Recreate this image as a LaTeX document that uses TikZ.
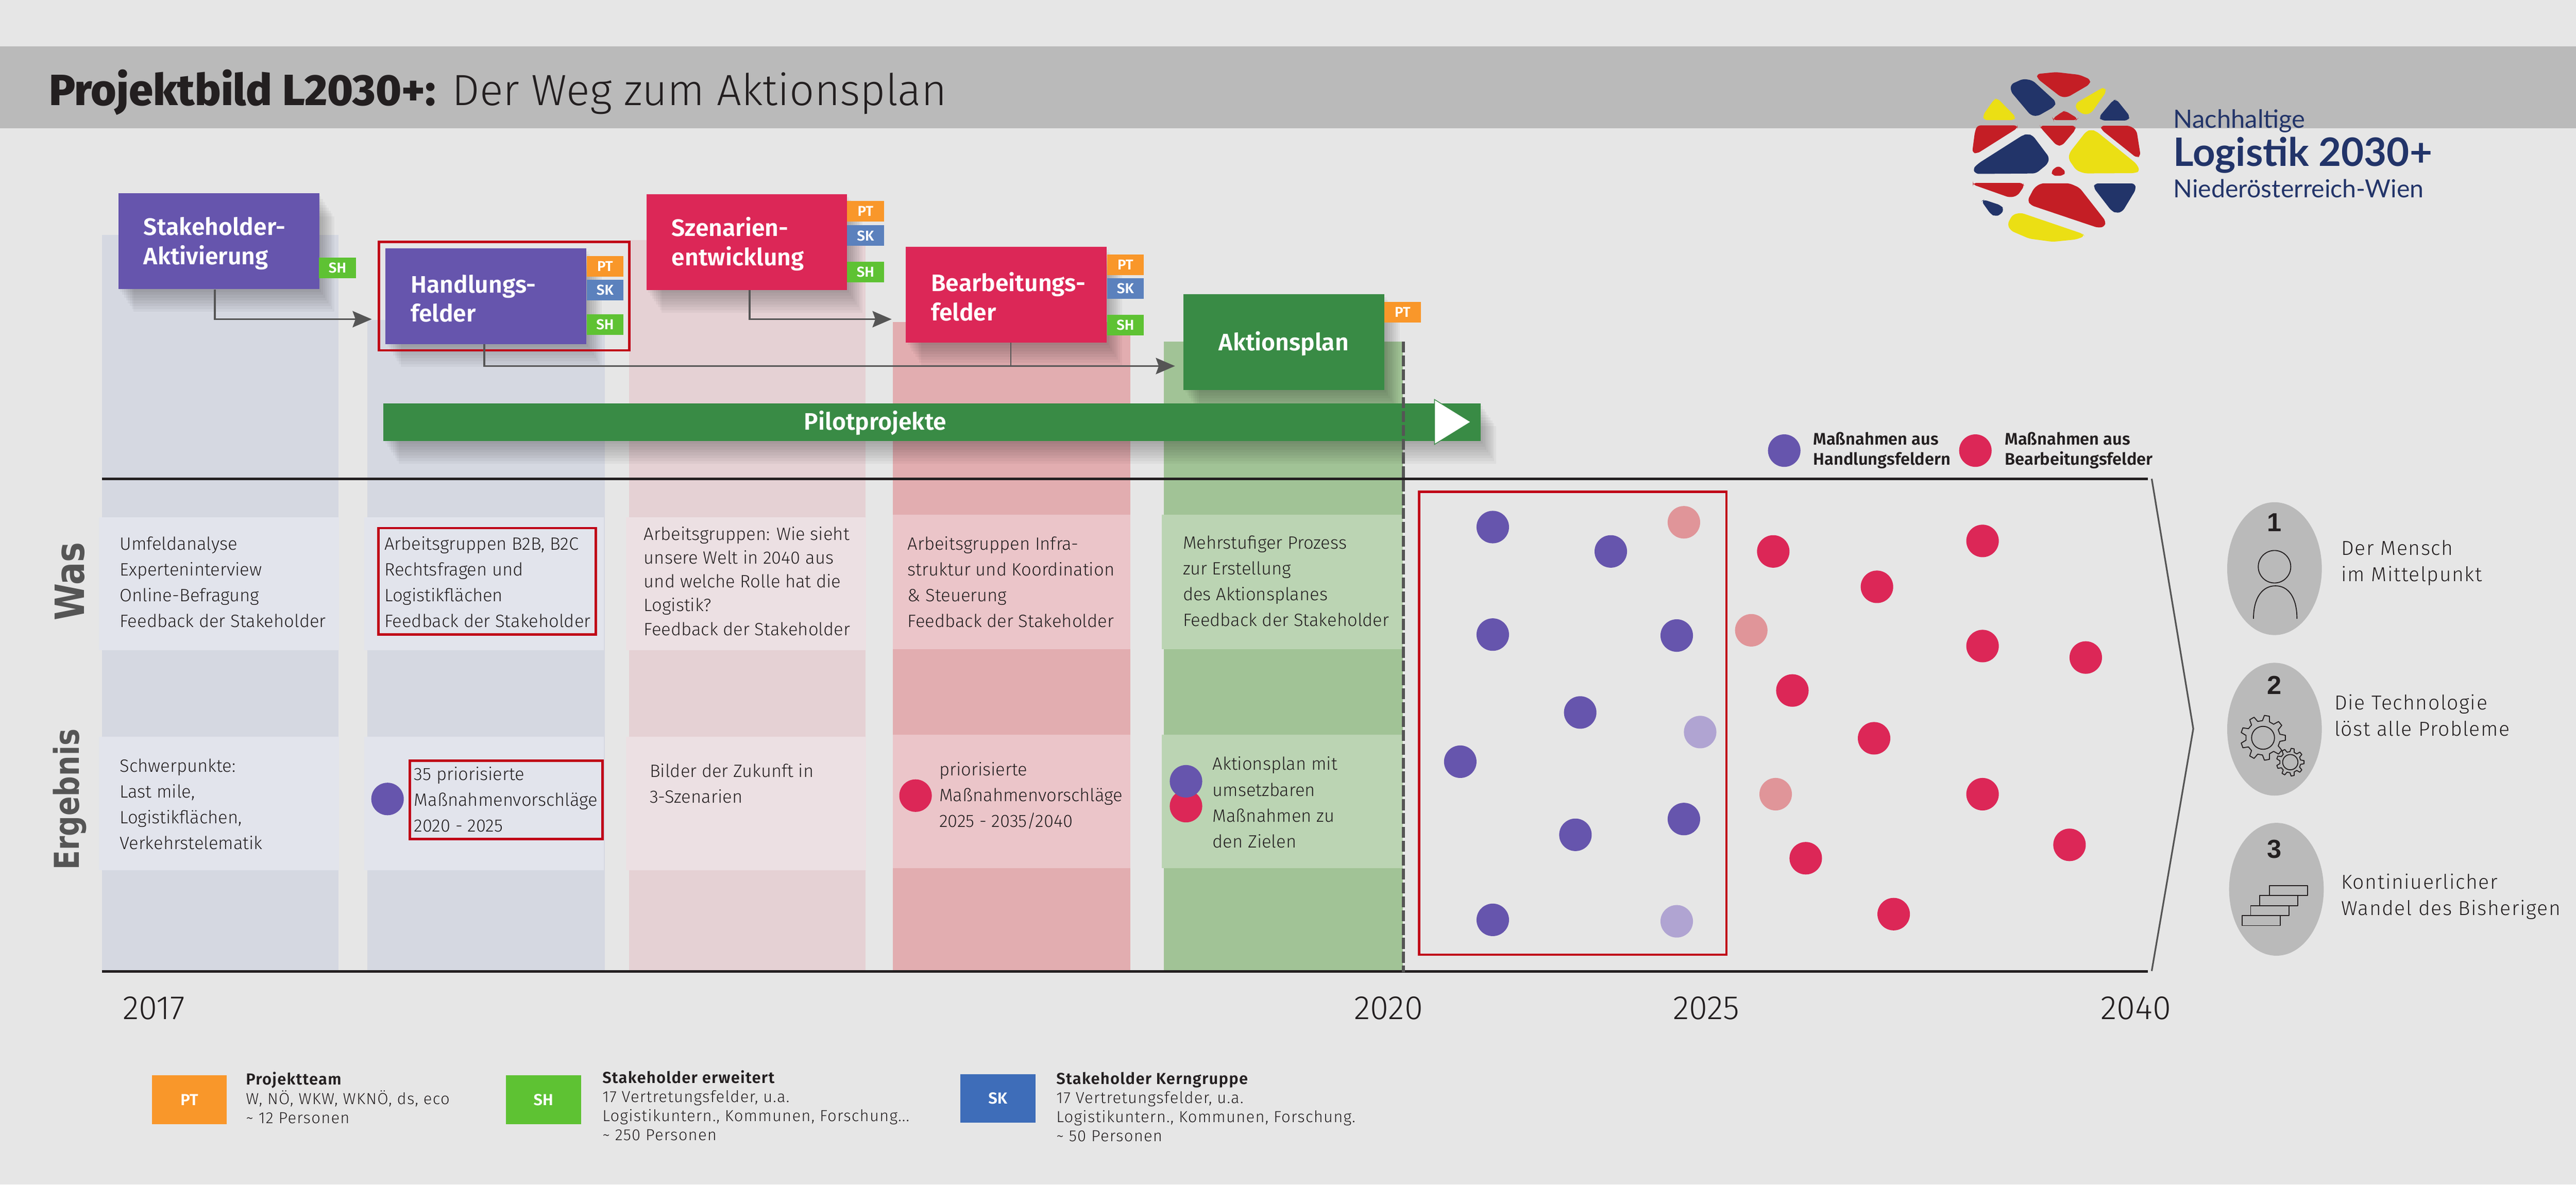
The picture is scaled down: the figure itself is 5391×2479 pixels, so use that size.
\documentclass[tikz,border=0pt]{standalone}
\usepackage{fontspec}
\usepackage{tikz}
\usetikzlibrary{arrows.meta, positioning, calc}
\setmainfont{Fira Sans}[UprightFont={* Light},BoldFont={* SemiBold}]
\newfontfamily\blackfont{Fira Sans}[UprightFont={* ExtraBold}]
\newfontfamily\widefont{DejaVu Sans}[UprightFont={* Bold}]
\newfontfamily\logofont{Lato}[BoldFont={* Bold}]
\newfontfamily\numfont{Liberation Sans}[UprightFont={* Bold}]
\newcommand{\fsize}[2]{\fontsize{#1}{#2}\selectfont}

\definecolor{pagebg}{HTML}{E6E6E6}
\definecolor{bandgray}{HTML}{BABABA}
\definecolor{ink}{HTML}{231F20}
\definecolor{linegray}{HTML}{555555}
\definecolor{stagepurple}{HTML}{6655AD}
\definecolor{stagered}{HTML}{DC2757}
\definecolor{stagegreen}{HTML}{398B45}
\definecolor{frame}{HTML}{C00017}
\definecolor{tagpt}{HTML}{F9972A}
\definecolor{tagsh}{HTML}{5EC233}
\definecolor{tagsk}{HTML}{5B81BD}
\definecolor{tagskdark}{HTML}{3E6DB9}
\definecolor{colpurple}{HTML}{D5D8E1}
\definecolor{colrose}{HTML}{E5D1D4}
\definecolor{colred}{HTML}{E2ADB0}
\definecolor{colgreen}{HTML}{A1C396}
\definecolor{panpurple}{HTML}{E2E4EC}
\definecolor{panrose}{HTML}{ECE0E3}
\definecolor{panred}{HTML}{EBC5C9}
\definecolor{pangreen}{HTML}{BBD4B3}
\definecolor{fadepurple}{HTML}{B0A4D2}
\definecolor{fadered}{HTML}{E09599}
\definecolor{logored}{HTML}{C41E25}
\definecolor{logonavy}{HTML}{223469}
\definecolor{logoyellow}{HTML}{EBDF14}

\tikzset{
    shadowstep/.style={preaction={fill=black, opacity=0.035,
        transform canvas={xshift=#1*0.04cm, yshift=-#1*0.06cm}}},
    softshadow/.style={shadowstep=8, shadowstep=7, shadowstep=6, shadowstep=5, shadowstep=4, shadowstep=3, shadowstep=2, shadowstep=1},
    stagebox/.style={anchor=north west, minimum width=4.2cm, minimum height=2cm, inner xsep=0.53cm, inner ysep=0pt,
        text width=3.14cm, align=left, text=white, font=\bfseries\fsize{14.2}{17.4}, softshadow,
        execute at begin node={\rule{0pt}{13.5pt}}},
    tagbox/.style={anchor=north west, minimum width=0.77cm, minimum height=0.43cm, inner sep=0pt,
        text=white, font=\bfseries\fsize{8.5}{10}},
    legendbox/.style={anchor=north west, minimum width=1.57cm, minimum height=1.02cm, inner sep=0pt,
        text=white, font=\bfseries\fsize{9.5}{11}},
    bodytext/.style={anchor=west, align=left, inner sep=0pt, text=ink, font=\fsize{10.6}{15.35}},
    keytext/.style={anchor=west, align=left, inner sep=0pt, text=ink, font=\bfseries\fsize{10}{12}},
    legendtext/.style={anchor=north west, align=left, inner sep=0pt, text=ink, font=\fsize{9.5}{11.4}\addfontfeature{LetterSpace=4}},
    sidetext/.style={anchor=west, align=left, inner sep=0pt, text=ink, font=\fsize{12}{15.6}\addfontfeature{LetterSpace=4}},
    yeartext/.style={anchor=base, inner sep=0pt, text=ink, font=\fsize{20}{24}},
    rowtext/.style={rotate=90, yscale=1.2, inner sep=0pt, text=linegray},
    frameline/.style={draw=frame, line width=0.05cm},
    flowline/.style={draw=linegray, line width=0.04cm, -{Stealth[length=0.4cm, width=0.34cm, inset=0.06cm]}},
    dotmark/.style={circle, minimum size=0.68cm, inner sep=0pt},
    iconline/.style={draw=ink, line width=0.02cm, line join=round},
}

% one gear: centre x, centre y, root radius, tip radius, teeth
\newcommand{\gearicon}[5]{
    \begin{scope}[shift={(#1,#2)}]
        \pgfmathsetmacro{\gearstep}{360/#5}
        \draw[iconline] (-0.3*\gearstep:#3)
            \foreach \i in {1,...,#5} {
                -- ({(\i-1)*\gearstep-0.16*\gearstep}:#4)
                -- ({(\i-1)*\gearstep+0.16*\gearstep}:#4)
                -- ({(\i-1)*\gearstep+0.3*\gearstep}:#3)
                -- ({(\i-1)*\gearstep+0.7*\gearstep}:#3)
            } -- cycle;
    \end{scope}
}

\begin{document}
\begin{tikzpicture}[x=0.01cm, y=-0.01cm]
    \useasboundingbox (0,0) rectangle (5391,2479);
    \fill[pagebg] (0,0) rectangle (5391,2479);
    \fill[bandgray] (0,97) rectangle (5391,269);

    % Title
    \node[anchor=base west, inner sep=0pt, text=ink, font=\fsize{26}{30}] (title) at (102,221)
        {{\blackfont Projektbild L2030+:} Der Weg zum Aktionsplan};

    % Logo
    \begin{scope}[shift={(4050,120)}, x=0.007015cm, y=-0.003333cm, rounded corners=2pt]
        \fill[logored] (302,105) -- (360,93) -- (430,110) -- (463,140) -- (460,170) -- (395,250) -- (375,250) -- (305,135) -- cycle;
        \fill[logonavy] (262,135) -- (290,145) -- (360,280) -- (355,310) -- (305,370) -- (285,365) -- (225,215) -- (225,170) -- cycle;
        \fill[logoyellow] (505,190) -- (510,215) -- (465,350) -- (445,362) -- (420,330) -- (418,290) -- (495,195) -- cycle;
        \fill[logoyellow] (185,257) -- (240,375) -- (235,395) -- (145,395) -- (142,365) -- (175,265) -- cycle;
        \fill[logored] (388,337) -- (425,385) -- (420,395) -- (352,395) -- (350,385) -- (380,340) -- cycle;
        \fill[logonavy] (540,265) -- (580,370) -- (575,397) -- (495,397) -- (488,375) -- (530,270) -- cycle;
        \fill[logored] (125,428) -- (245,428) -- (245,445) -- (125,605) -- (110,600) -- (118,470) -- cycle;
        \fill[logored] (312,430) -- (418,430) -- (418,455) -- (378,555) -- (362,555) -- (315,445) -- cycle;
        \fill[logored] (493,430) -- (580,430) -- (600,460) -- (612,620) -- (600,632) -- (495,455) -- cycle;
        \fill[logonavy] (275,483) -- (290,490) -- (340,630) -- (335,670) -- (300,730) -- (120,733) -- (112,700) -- (130,665) -- (262,488) -- cycle;
        \fill[logoyellow] (465,455) -- (480,465) -- (600,670) -- (610,715) -- (595,728) -- (445,730) -- (420,710) -- (397,640) -- (400,600) -- (450,465) -- cycle;
        \fill[logored] (367,680) -- (390,720) -- (380,745) -- (350,745) -- (345,715) -- cycle;
        \fill[logored] (112,790) -- (262,790) -- (265,810) -- (245,870) -- (222,882) -- (112,800) -- cycle;
        \fill[logored] (315,792) -- (400,792) -- (430,820) -- (508,1030) -- (505,1065) -- (485,1072) -- (285,930) -- (275,900) -- (295,820) -- cycle;
        \fill[logonavy] (475,793) -- (595,793) -- (598,830) -- (558,970) -- (540,980) -- (525,965) -- (472,820) -- cycle;
        \fill[logonavy] (145,895) -- (195,930) -- (205,955) -- (195,990) -- (178,1000) -- (165,985) -- (138,905) -- cycle;
        \fill[logoyellow] (255,977) -- (440,1110) -- (445,1125) -- (420,1145) -- (350,1160) -- (280,1140) -- (225,1090) -- (215,1050) -- (230,990) -- cycle;
    \end{scope}
    \node[anchor=base west, inner sep=0pt, text=logonavy, font=\logofont\fsize{15}{17}] (logoA) at (4548,268) {Nachhaltige};
    \node[anchor=base west, inner sep=0pt, text=logonavy, font=\logofont\bfseries\fsize{23.3}{26}] (logoB) at (4548,348) {Logistik 2030+};
    \node[anchor=base west, inner sep=0pt, text=logonavy, font=\logofont\fsize{14.8}{17}] (logoC) at (4548,413) {Niederösterreich-Wien};

    % Columns
    \fill[colpurple] (213,492) rectangle (708,2031);
    \fill[colpurple] (769,670) rectangle (1266,2031);
    \fill[colrose] (1316,502) rectangle (1811,2031);
    \fill[colred] (1869,674) rectangle (2365,2031);
    \fill[colgreen] (2436,715) rectangle (2936,2031);

    % Panels
    \foreach \xa/\xb/\shade in {207/709/panpurple, 762/1264/panpurple, 1310/1812/panrose} {
        \fill[\shade] (\xa,1082) rectangle (\xb,1361);
        \fill[\shade] (\xa,1542) rectangle (\xb,1821);
    }
    \foreach \xa/\xb/\shade in {1869/2365/panred, 2431/2936/pangreen} {
        \fill[\shade] (\xa,1077) rectangle (\xb,1358);
        \fill[\shade] (\xa,1538) rectangle (\xb,1817);
    }

    % Axis lines
    \coordinate (topL) at (213,1002);
    \coordinate (topR) at (4495,1002);
    \coordinate (botL) at (213,2033);
    \coordinate (botR) at (4495,2033);
    \draw[ink, line width=0.05cm] (topL) -- (topR);
    \draw[ink, line width=0.05cm] (botL) -- (botR);
    \coordinate (chevA) at (4503,1002);
    \coordinate (chevB) at (4590,1525);
    \coordinate (chevC) at (4503,2032);
    \draw[linegray, line width=0.035cm] (chevA) -- (chevB) -- (chevC);

    % Stage boxes
    \node[stagebox, fill=stagepurple] (stakeholder) at (247,404) {Stakeholder-\\Aktivierung};
    \node[stagebox, fill=stagepurple] (handlung) at (806,519) {Handlungs-\\felder};
    \node[stagebox, fill=stagered] (szenarien) at (1352,406) {Szenarien-\\entwicklung};
    \node[stagebox, fill=stagered] (bearbeitung) at (1895,516) {\mbox{Bearbeitungs-}\\felder};
    \node[stagebox, fill=stagegreen, align=center, execute at begin node={}] (aktion) at (2476,615) {Aktionsplan};

    \draw[frameline] (793,506) rectangle (1317,733);

    % Tags
    \node[tagbox, fill=tagsh] (shA) at (667,538) {SH};
    \node[tagbox, fill=tagpt] (ptB) at (1227,535) {PT};
    \node[tagbox, fill=tagsk] (skB) at (1227,585) {SK};
    \node[tagbox, fill=tagsh] (shB) at (1227,657) {SH};
    \node[tagbox, fill=tagpt] (ptC) at (1772,420) {PT};
    \node[tagbox, fill=tagsk] (skC) at (1772,471) {SK};
    \node[tagbox, fill=tagsh] (shC) at (1772,547) {SH};
    \node[tagbox, fill=tagpt] (ptD) at (2316,532) {PT};
    \node[tagbox, fill=tagsk] (skD) at (2316,582) {SK};
    \node[tagbox, fill=tagsh] (shD) at (2316,658) {SH};
    \node[tagbox, fill=tagpt] (ptE) at (2896,631) {PT};

    % Pilot bar
    \node[anchor=north west, minimum width=22.95cm, minimum height=0.79cm, inner sep=0pt, fill=stagegreen, softshadow] (pilot) at (802,843) {};
    \node[inner sep=0pt, text=white, font=\bfseries\fsize{14.2}{17}] (pilotLabel) at (1832,885) {Pilotprojekte};
    \fill[white, draw=stagegreen, line width=0.015cm] (3002,836) -- (3078,883) -- (3002,930) -- cycle;

    % Connectors
    \coordinate (endA) at (778,668);
    \coordinate (endB) at (1866,668);
    \coordinate (endC) at (2459,766);
    \draw[flowline] ([xshift=-0.08cm]stakeholder.south) |- (endA);
    \draw[flowline] ([xshift=0.06cm]szenarien.south) |- (endB);
    \draw[flowline] ([xshift=-0.03cm]handlung.south) |- (endC);
    \draw[linegray, line width=0.02cm] ([xshift=0.1cm]bearbeitung.south) -- ([xshift=0.1cm]bearbeitung.south |- endC);

    % Today marker
    \coordinate (nowTop) at (2937,715);
    \coordinate (nowBot) at (2937,2035);
    \draw[linegray, line width=0.065cm, dash pattern=on 0.23cm off 0.06cm] (nowTop) -- (nowBot);

    % Frames
    \draw[frameline] (2970,1029) rectangle (3613,1998);
    \draw[frameline] (792,1105) rectangle (1247,1328);
    \draw[frameline] (858,1592) rectangle (1261,1756);

    % Panel texts
    \node[bodytext] (wasA) at (250,1218) {Umfeldanalyse\\Experteninterview\\Online-Befragung\\Feedback der Stakeholder};
    \node[bodytext] (wasB) at (804,1218) {Arbeitsgruppen B2B, B2C\\Rechtsfragen und\\Logistikflächen\\Feedback der Stakeholder};
    \node[bodytext, font=\fsize{10.6}{14.2}] (wasC) at (1347,1216) {Arbeitsgruppen: Wie sieht\\unsere Welt in 2040 aus\\und welche Rolle hat die\\Logistik?\\Feedback der Stakeholder};
    \node[bodytext] (wasD) at (1899,1218) {Arbeitsgruppen Infra-\\struktur und Koordination\\\& Steuerung\\Feedback der Stakeholder};
    \node[bodytext] (wasE) at (2475,1216) {Mehrstufiger Prozess\\zur Erstellung\\des Aktionsplanes\\Feedback der Stakeholder};
    \node[bodytext] (ergA) at (250,1683) {Schwerpunkte:\\Last mile,\\Logistikflächen,\\Verkehrstelematik};
    \node[bodytext] (ergB) at (866,1673) {35 priorisierte\\Maßnahmenvorschläge\\2020 - 2025};
    \node[bodytext] (ergC) at (1359,1640) {Bilder der Zukunft in\\3-Szenarien};
    \node[bodytext] (ergD) at (1965,1665) {priorisierte\\Maßnahmenvorschläge\\2025 - 2035/2040};
    \node[bodytext] (ergE) at (2537,1679) {Aktionsplan mit\\umsetzbaren\\Maßnahmen zu\\den Zielen};

    % Row titles
    \node[rowtext, font=\widefont\fsize{20}{22}] (rowWas) at (146,1217) {Was};
    \node[rowtext, font=\widefont\fsize{17}{20}] (rowErgebnis) at (146,1673) {Ergebnis};

    % Dots
    \node[dotmark, fill=stagepurple] (dotB) at (811,1672) {};
    \node[dotmark, fill=stagered] (dotD) at (1916,1665) {};
    \node[dotmark, fill=stagered] (dotEr) at (2482,1687) {};
    \node[dotmark, fill=stagepurple] (dotEp) at (2482,1635) {};
    \foreach \px/\py [count=\i] in {3124/1103, 3371/1154, 3124/1328, 3509/1330, 3307/1491, 3056/1594, 3297/1747, 3524/1714, 3124/1925}
        \node[dotmark, fill=stagepurple] (purple\i) at (\px,\py) {};
    \foreach \px/\py [count=\i] in {3558/1532, 3509/1928}
        \node[dotmark, fill=fadepurple] (palepurple\i) at (\px,\py) {};
    \foreach \px/\py [count=\i] in {3524/1093, 3665/1319, 3716/1662}
        \node[dotmark, fill=fadered] (palered\i) at (\px,\py) {};
    \foreach \px/\py [count=\i] in {3711/1154, 3751/1445, 3779/1796, 4149/1132, 3928/1228, 4149/1352, 4365/1376, 3922/1545, 4149/1662, 4331/1768, 3963/1913}
        \node[dotmark, fill=stagered] (red\i) at (\px,\py) {};

    % Dot legend
    \node[dotmark, fill=stagepurple] (keyPurple) at (3734,943) {};
    \node[dotmark, fill=stagered] (keyRed) at (4134,943) {};
    \node[keytext] (keyPurpleText) at (3794,943) {Maßnahmen aus\\Handlungsfeldern};
    \node[keytext] (keyRedText) at (4195,943) {Maßnahmen aus\\Bearbeitungsfelder};

    % Years
    \node[yeartext] (y2017) at (322,2133) {2017};
    \node[yeartext] (y2020) at (2906,2133) {2020};
    \node[yeartext] (y2025) at (3571,2133) {2025};
    \node[yeartext] (y2040) at (4470,2133) {2040};

    % Box legend
    \node[legendbox, fill=tagpt] (keyPT) at (317,2250) {PT};
    \node[legendbox, fill=tagsh] (keySH) at (1058,2250) {SH};
    \node[legendbox, fill=tagskdark] (keySK) at (2009,2247) {SK};
    \node[legendtext] (keyPTtext) at (514,2243) {{\bfseries Projektteam}\\W, NÖ, WKW, WKNÖ, ds, eco\\\textasciitilde{} 12 Personen};
    \node[legendtext] (keySHtext) at (1260,2239) {{\bfseries Stakeholder erweitert}\\17 Vertretungsfelder, u.a.\\Logistikuntern., Kommunen, Forschung...\\\textasciitilde{} 250 Personen};
    \node[legendtext] (keySKtext) at (2210,2243) {{\bfseries Stakeholder Kerngruppe}\\17 Vertretungsfelder, u.a.\\Logistikuntern., Kommunen, Forschung.\\\textasciitilde{} 50 Personen};

    % Ovals on the right
    \fill[bandgray] (4760,1190) circle [x radius=99, y radius=139];
    \fill[bandgray] (4760,1526) circle [x radius=99, y radius=139];
    \fill[bandgray] (4764,1861) circle [x radius=99, y radius=139];
    \node[inner sep=0pt, text=ink, font=\numfont\fsize{15.5}{18}] (numA) at (4760,1093) {1};
    \node[inner sep=0pt, text=ink, font=\numfont\fsize{15.5}{18}] (numB) at (4760,1434) {2};
    \node[inner sep=0pt, text=ink, font=\numfont\fsize{15.5}{18}] (numC) at (4760,1777) {3};

    % Icons
    \draw[iconline] (4760,1186) circle [x radius=34, y radius=34];
    \draw[iconline] (4716,1295) .. controls (4716,1250) and (4735,1226) .. (4762,1226) .. controls (4789,1226) and (4807,1250) .. (4807,1295);
    \gearicon{4736}{1544}{36}{47}{9}
    \draw[iconline] (4736,1544) circle [radius=24];
    \gearicon{4793}{1595}{22}{29}{9}
    \draw[iconline] (4793,1595) circle [radius=16];
    \foreach \xa/\ya in {4692/1916, 4710/1895, 4729/1874, 4749/1853}
        \draw[iconline] (\xa,\ya) rectangle ++(80,21);

    % Side texts
    \node[sidetext] (sideA) at (4899,1178) {Der Mensch\\im Mittelpunkt};
    \node[sidetext] (sideB) at (4885,1497) {Die Technologie\\löst alle Probleme};
    \node[sidetext] (sideC) at (4899,1876) {Kontiniuerlicher\\Wandel des Bisherigen};
\end{tikzpicture}
\end{document}
